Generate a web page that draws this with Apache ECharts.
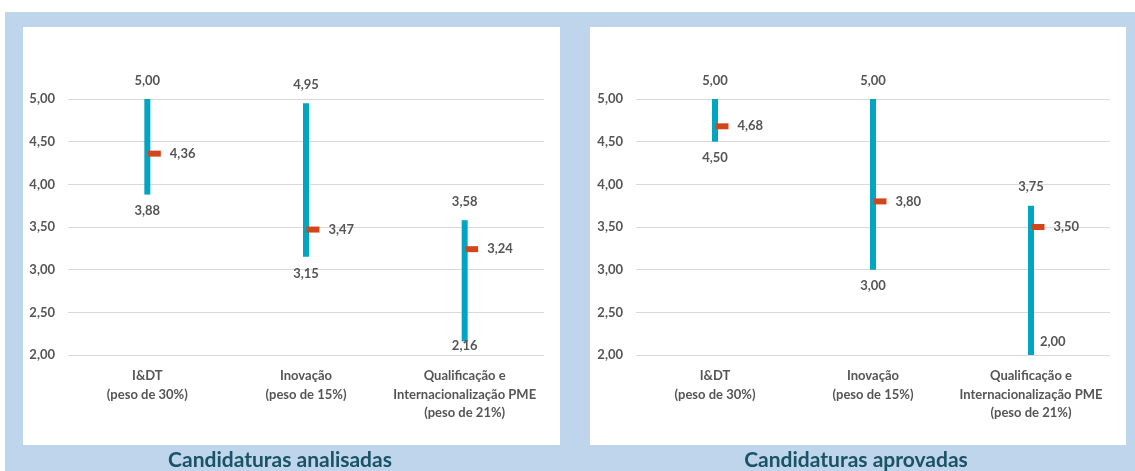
<!DOCTYPE html>
<html>
<head>
<meta charset="utf-8">
<script src="https://cdn.jsdelivr.net/npm/echarts@6/dist/echarts.min.js"></script>
<style>
  html, body { margin: 0; padding: 0; background: #fff; }
  #mybox { width: 1135px; height: 471px; }
</style>
</head>
<body>
<div id="mybox"></div>
<script>
// categorias (eixo x)
var categorias = ['I&DT\n(peso de 30%)', 'Inovação\n(peso de 15%)', 'Qualificação e\nInternacionalização PME\n(peso de 21%)'];
var yTicks = [2.0, 2.5, 3.0, 3.5, 4.0, 4.5, 5.0];

// candidaturas analisadas
var analMax = [5.00, 4.95, 3.58];
var analMin = [3.88, 3.15, 2.16];
var analMedia = [4.36, 3.47, 3.24];

// candidaturas aprovadas
var aprovMax = [5.00, 5.00, 3.75];
var aprovMin = [4.50, 3.00, 2.00];
var aprovMedia = [4.68, 3.80, 3.50];

var corBarra = '#00a6c1';
var corMedia = '#d2461c';
var corTexto = '#555555';
var fonte = 'Lato';

function fmt(v) {
    return v.toFixed(2).replace('.', ',');
}

//posicoes especiais das etiquetas do minimo
var ajusteMin = [
    { 2: { offset: [0, -12] } },
    { 2: { position: 'right', distance: 9, offset: [0, -13] } }
];

function series(g, maxs, mins, medias) {
    var lbl = { color: corTexto, fontFamily: fonte, fontWeight: 'bold', fontSize: 13 };
    return [
        {
            type: 'custom',
            xAxisIndex: g, yAxisIndex: g,
            data: maxs.map(function (v, i) { return [i, mins[i], v]; }),
            renderItem: function (params, api) {
                var lo = api.coord([api.value(0), api.value(1)]);
                var hi = api.coord([api.value(0), api.value(2)]);
                return {
                    type: 'rect',
                    shape: { x: lo[0] - 3, y: hi[1], width: 6, height: lo[1] - hi[1] },
                    style: { fill: corBarra }
                };
            },
            z: 2
        },
        {
            type: 'scatter',
            xAxisIndex: g, yAxisIndex: g,
            symbolSize: 0,
            itemStyle: { opacity: 1 },
            data: maxs.map(function (v, i) { return [i, v]; }),
            label: Object.assign({ show: true, position: 'top', distance: 12,
                formatter: function (p) { return fmt(p.value[1]); } }, lbl),
            silent: true
        },
        {
            type: 'scatter',
            xAxisIndex: g, yAxisIndex: g,
            symbolSize: 0,
            itemStyle: { opacity: 1 },
            data: mins.map(function (v, i) {
                var it = { value: [i, v] };
                if (ajusteMin[g][i]) it.label = ajusteMin[g][i];
                return it;
            }),
            label: Object.assign({ show: true, position: 'bottom', distance: 10,
                formatter: function (p) { return fmt(p.value[1]); } }, lbl),
            silent: true
        },
        {
            type: 'scatter',
            xAxisIndex: g, yAxisIndex: g,
            symbol: 'rect',
            symbolSize: [13, 6],
            symbolOffset: [7, 0],
            itemStyle: { color: corMedia, opacity: 1 },
            data: medias.map(function (v, i) { return [i, v]; }),
            label: Object.assign({ show: true, position: 'right', distance: 9,
                formatter: function (p) { return fmt(p.value[1]); } }, lbl),
            z: 3,
            silent: true
        }
    ];
}

function xAx(g) {
    return {
        type: 'category', gridIndex: g, data: categorias,
        axisLine: { show: false }, axisTick: { show: false },
        axisLabel: { color: corTexto, fontFamily: fonte, fontWeight: 'bold', fontSize: 13,
            lineHeight: 18.5, margin: 12, interval: 0 }
    };
}
function yAx(g) {
    return {
        type: 'value', gridIndex: g, min: yTicks[0], max: yTicks[yTicks.length - 1], interval: 0.5,
        axisLine: { show: false }, axisTick: { show: false },
        splitLine: { lineStyle: { color: '#d9d9d9' } },
        axisLabel: { color: corTexto, fontFamily: fonte, fontWeight: 'bold', fontSize: 13, margin: 13,
            formatter: fmt }
    };
}

var mycharts = echarts.init(document.getElementById('mybox'));

var optionObj = {
    animation: false,
    graphic: [
        { type: 'rect', shape: { x: 5, y: 12, width: 1130, height: 459 }, style: { fill: '#bed5ec' }, z: -10 },
        { type: 'rect', shape: { x: 23, y: 27, width: 537, height: 418 }, style: { fill: '#ffffff' }, z: -9 },
        { type: 'rect', shape: { x: 590, y: 27, width: 536, height: 418 }, style: { fill: '#ffffff' }, z: -9 },
        { type: 'text', x: 280, y: 460, style: { text: 'Candidaturas analisadas', fill: '#1a5266',
            font: 'bold 21px Lato', textAlign: 'center', textVerticalAlign: 'middle' } },
        { type: 'text', x: 856, y: 460, style: { text: 'Candidaturas aprovadas', fill: '#1a5266',
            font: 'bold 21px Lato', textAlign: 'center', textVerticalAlign: 'middle' } }
    ],
    grid: [
        { left: 68, top: 99, width: 476, height: 256 },
        { left: 636, top: 99, width: 474, height: 256 }
    ],
    xAxis: [xAx(0), xAx(1)],
    yAxis: [yAx(0), yAx(1)],
    series: series(0, analMax, analMin, analMedia).concat(series(1, aprovMax, aprovMin, aprovMedia))
};

mycharts.setOption(optionObj);
</script>
</body>
</html>
